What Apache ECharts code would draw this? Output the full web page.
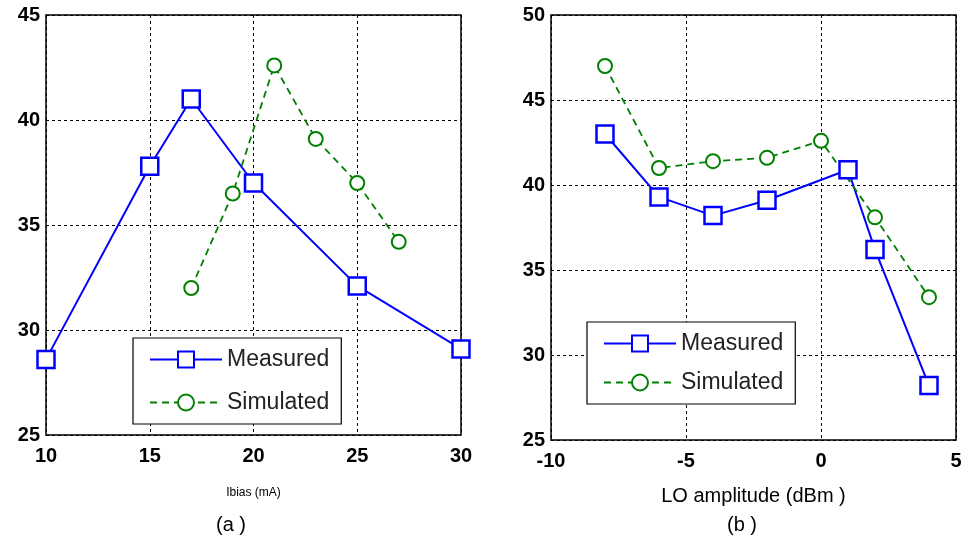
<!DOCTYPE html>
<html>
<head>
<meta charset="utf-8">
<script src="https://cdn.jsdelivr.net/npm/echarts@6/dist/echarts.min.js"></script>
<style>
  html, body { margin: 0; padding: 0; background: #fff; }
  #main { width: 969px; height: 551px; }
</style>
</head>
<body>
<div id="main"></div>
<script>
// panel (a): bias sweep
const biasMeasX = [10, 15, 17, 20, 25, 30]
const biasMeasY = [28.6, 37.8, 41.0, 37.0, 32.1, 29.1]
const biasSimX = [17, 19, 21, 23, 25, 27]
const biasSimY = [32.0, 36.5, 42.6, 39.1, 37.0, 34.2]
// panel (b): LO amplitude sweep
const loMeasX = [-8, -6, -4, -2, 1, 2, 4]
const loMeasY = [43.0, 39.3, 38.2, 39.1, 40.9, 36.2, 28.2]
const loSimX = [-8, -6, -4, -2, 0, 2, 4]
const loSimY = [47.0, 41.0, 41.4, 41.6, 42.6, 38.1, 33.4]

const seriesNames = ['Measured', 'Simulated']
const captions = ['(a )', '(b )']

function pairs(xs, ys) {
  return xs.map((x, i) => [x, ys[i]])
}

const tickFont = {
  color: '#000',
  fontFamily: 'Liberation Sans, Arial',
  fontWeight: 'bold',
  fontSize: 20
}
const gridLine = { show: true, lineStyle: { color: '#000', type: [3, 3], width: 1 } }

function xAxis(idx, min, max, name, nameSize) {
  return {
    type: 'value', gridIndex: idx, min: min, max: max, interval: 5,
    axisLine: { show: false }, axisTick: { show: false },
    axisLabel: Object.assign({ margin: 11 }, tickFont),
    splitLine: gridLine,
    name: name, nameLocation: 'middle', nameGap: nameSize > 15 ? 46 : 52,
    nameTextStyle: { color: '#000', fontSize: nameSize, fontFamily: 'Liberation Sans, Arial' }
  }
}
function yAxis(idx, min, max) {
  return {
    type: 'value', gridIndex: idx, min: min, max: max, interval: 5,
    axisLine: { show: false }, axisTick: { show: false },
    axisLabel: Object.assign({ margin: 6 }, tickFont),
    splitLine: gridLine
  }
}
function measSeries(idx, data) {
  return {
    name: seriesNames[0], type: 'line', xAxisIndex: idx, yAxisIndex: idx,
    data: data, symbol: 'rect', symbolSize: 17,
    lineStyle: { color: '#0000ff', width: 2 },
    itemStyle: { color: '#fff', borderColor: '#0000ff', borderWidth: 2.5 },
    color: '#0000ff'
  }
}
function simSeries(idx, data) {
  return {
    name: seriesNames[1], type: 'line', xAxisIndex: idx, yAxisIndex: idx,
    data: data, symbol: 'circle', symbolSize: 14,
    lineStyle: { color: '#008000', width: 1.8, type: [7, 5] },
    itemStyle: { color: '#fff', borderColor: '#008000', borderWidth: 2 },
    color: '#008000'
  }
}
function legend(left, top, gap) {
  return {
    left: left, top: top, orient: 'vertical',
    data: seriesNames,
    backgroundColor: '#fff', borderColor: '#000', borderWidth: 1.2,
    padding: [10, 12, 10, 16], itemGap: gap,
    itemWidth: 72, itemHeight: 20,
    textStyle: { fontSize: 23, color: '#222', fontFamily: 'Liberation Sans, Arial' }
  }
}

const chart = echarts.init(document.getElementById('main'))
chart.setOption({
  backgroundColor: '#fff',
  animation: false,
  grid: [
    { left: 46, top: 15, width: 415, height: 420, show: true, borderColor: '#000', borderWidth: 1.5 },
    { left: 551, top: 15, width: 405, height: 425, show: true, borderColor: '#000', borderWidth: 1.5 }
  ],
  xAxis: [
    xAxis(0, 10, 30, 'Ibias (mA)', 12),
    xAxis(1, -10, 5, 'LO amplitude (dBm )', 20)
  ],
  yAxis: [
    yAxis(0, 25, 45),
    yAxis(1, 25, 50)
  ],
  legend: [legend(133, 338, 20), legend(587, 322, 16)],
  series: [
    measSeries(0, pairs(biasMeasX, biasMeasY)),
    simSeries(0, pairs(biasSimX, biasSimY)),
    measSeries(1, pairs(loMeasX, loMeasY)),
    simSeries(1, pairs(loSimX, loSimY))
  ],
  graphic: [
    { type: 'text', left: 216, top: 515, style: { text: captions[0], fontSize: 20, fill: '#000', fontFamily: 'Liberation Sans, Arial' } },
    { type: 'text', left: 727, top: 515, style: { text: captions[1], fontSize: 20, fill: '#000', fontFamily: 'Liberation Sans, Arial' } }
  ]
})
</script>
</body>
</html>
